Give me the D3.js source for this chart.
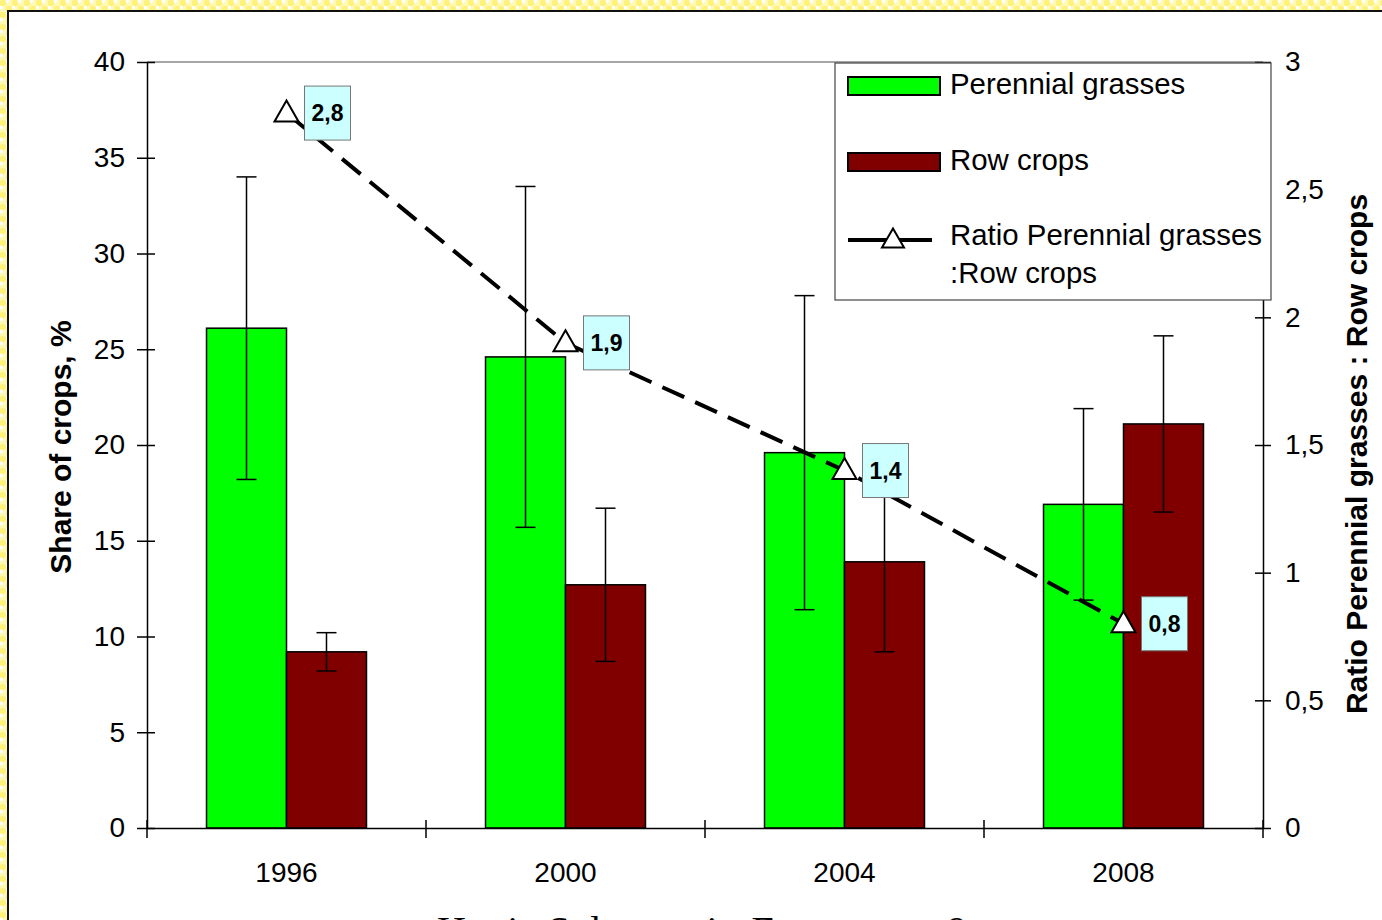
<!DOCTYPE html>
<html>
<head>
<meta charset="utf-8">
<script src="https://cdn.jsdelivr.net/npm/d3@7"></script>
<style>
  html, body { margin: 0; padding: 0; background: #fff; }
  svg { display: block; font-family: "Liberation Sans", Arial, sans-serif; }
</style>
</head>
<body>
<svg id="chart" width="1382" height="920"></svg>
<script>
// ---- data ----
const years = ["1996", "2000", "2004", "2008"];
const perennialGrasses = [26.1, 24.6, 19.6, 16.9];
const perennialErr = [7.9, 8.9, 8.2, 5.0];
const rowCrops = [9.2, 12.7, 13.9, 21.1];
const rowErr = [1.0, 4.0, 4.7, 4.6];
const ratio = [2.8, 1.9, 1.4, 0.8];
const ratioLabels = ["2,8", "1,9", "1,4", "0,8"];
const leftTicks = [0, 5, 10, 15, 20, 25, 30, 35, 40];
const rightTicks = [0, 0.5, 1, 1.5, 2, 2.5, 3];
const rightTickLabels = ["0", "0,5", "1", "1,5", "2", "2,5", "3"];
const seriesNames = ["Perennial grasses", "Row crops"];

const W = 1382, H = 920;
const M = { left: 147, right: 119, top: 62, bottom: 92 };
const iw = W - M.left - M.right, ih = H - M.top - M.bottom;

const svg = d3.select("#chart");

// ---- decorative frame ----
const defs = svg.append("defs");
const pat = defs.append("pattern").attr("id", "dots")
  .attr("width", 12).attr("height", 12).attr("patternUnits", "userSpaceOnUse");
pat.append("rect").attr("width", 12).attr("height", 12).attr("fill", "#fff9b8");
pat.append("circle").attr("cx", 3).attr("cy", 3).attr("r", 3.2).attr("fill", "#fff27a");
pat.append("circle").attr("cx", 9).attr("cy", 9).attr("r", 3.2).attr("fill", "#fff27a");
pat.append("rect").attr("x", 6).attr("y", 0).attr("width", 3).attr("height", 3).attr("fill", "#ffffff");
pat.append("rect").attr("x", 0).attr("y", 6).attr("width", 3).attr("height", 3).attr("fill", "#ffffff");
svg.append("rect").attr("width", W).attr("height", H).attr("fill", "url(#dots)");
svg.append("rect").attr("x", 8).attr("y", 11).attr("width", W).attr("height", H)
  .attr("fill", "#fff").attr("stroke", "#111").attr("stroke-width", 2);

const g = svg.append("g").attr("transform", `translate(${M.left},${M.top})`);

// ---- scales ----
const x = d3.scaleBand().domain(years).range([0, iw]).paddingInner(0).paddingOuter(0);
const xSub = d3.scaleBand().domain(seriesNames).range([0, x.bandwidth()])
  .paddingInner(0).paddingOuter(0.744);
const y = d3.scaleLinear().domain([0, 40]).range([ih, 0]);
const y2 = d3.scaleLinear().domain([0, 3]).range([ih, 0]);

// ---- plot border (top) ----
g.append("line").attr("x1", 0).attr("x2", iw).attr("y1", 0).attr("y2", 0)
  .attr("stroke", "#888").attr("stroke-width", 1.5);

// ---- bars ----
const colors = { "Perennial grasses": "#00ff00", "Row crops": "#800000" };
const barData = [];
years.forEach((yr, i) => {
  barData.push({ yr, s: seriesNames[0], v: perennialGrasses[i], e: perennialErr[i] });
  barData.push({ yr, s: seriesNames[1], v: rowCrops[i], e: rowErr[i] });
});
g.selectAll("rect.bar").data(barData).join("rect").attr("class", "bar")
  .attr("x", d => x(d.yr) + xSub(d.s))
  .attr("y", d => y(d.v))
  .attr("width", xSub.bandwidth())
  .attr("height", d => ih - y(d.v))
  .attr("fill", d => colors[d.s])
  .attr("stroke", "#000").attr("stroke-width", 1.5);

// ---- error bars ----
const eb = g.selectAll("g.err").data(barData).join("g").attr("class", "err")
  .attr("transform", d => `translate(${x(d.yr) + xSub(d.s) + xSub.bandwidth() / 2},0)`);
eb.append("line").attr("y1", d => y(d.v + d.e)).attr("y2", d => y(d.v - d.e))
  .attr("stroke", "#000").attr("stroke-width", 1.5);
eb.append("line").attr("x1", -10).attr("x2", 10).attr("y1", d => y(d.v + d.e)).attr("y2", d => y(d.v + d.e))
  .attr("stroke", "#000").attr("stroke-width", 1.5);
eb.append("line").attr("x1", -10).attr("x2", 10).attr("y1", d => y(d.v - d.e)).attr("y2", d => y(d.v - d.e))
  .attr("stroke", "#000").attr("stroke-width", 1.5);

// ---- axes ----
const fontTick = 28;
const axL = g.append("g").call(d3.axisLeft(y).tickValues(leftTicks).tickSize(0).tickFormat(d3.format("d")));
axL.select(".domain").attr("stroke", "#000").attr("stroke-width", 1.5);
axL.selectAll(".tick line").attr("x1", -10).attr("x2", 8).attr("stroke", "#000").attr("stroke-width", 1.5);
axL.selectAll(".tick text").attr("x", -22).attr("font-size", fontTick).attr("fill", "#000")
  .attr("font-family", "Liberation Sans, Arial, sans-serif");

const axR = g.append("g").attr("transform", `translate(${iw},0)`)
  .call(d3.axisRight(y2).tickValues(rightTicks).tickSize(0).tickFormat((d, i) => rightTickLabels[i]));
axR.select(".domain").attr("stroke", "#000").attr("stroke-width", 1.5);
axR.selectAll(".tick line").attr("x1", -8).attr("x2", 8).attr("stroke", "#000").attr("stroke-width", 1.5);
axR.selectAll(".tick text").attr("x", 22).attr("font-size", fontTick).attr("fill", "#000")
  .attr("font-family", "Liberation Sans, Arial, sans-serif");

const axB = g.append("g").attr("transform", `translate(0,${ih})`)
  .call(d3.axisBottom(x).tickSize(0));
axB.select(".domain").attr("stroke", "#000").attr("stroke-width", 1.5);
axB.selectAll(".tick line").remove();
axB.selectAll(".tick text").attr("y", 34).attr("dy", "0.71em").attr("font-size", fontTick).attr("fill", "#000")
  .attr("font-family", "Liberation Sans, Arial, sans-serif");
// category boundary tick marks (crossing the axis)
const bounds = years.map(yr => x(yr)).concat([iw]);
axB.selectAll("line.bt").data(bounds).join("line").attr("class", "bt")
  .attr("x1", d => d).attr("x2", d => d).attr("y1", -8).attr("y2", 10)
  .attr("stroke", "#000").attr("stroke-width", 1.5);

// ---- axis titles ----
g.append("text").attr("transform", `translate(${60 - M.left},${ih / 2 + 2}) rotate(-90)`)
  .attr("text-anchor", "middle").attr("dy", "0.35em")
  .attr("font-size", 30).attr("font-weight", "bold").text("Share of crops, %");
g.append("text").attr("transform", `translate(${1356 - M.left},${454 - M.top}) rotate(-90)`)
  .attr("text-anchor", "middle").attr("dy", "0.35em")
  .attr("font-size", 30).attr("font-weight", "bold").text("Ratio Perennial grasses : Row crops");

// ---- ratio line ----
const cx = yr => x(yr) + x.bandwidth() / 2;
const line = d3.line().x((d, i) => cx(years[i])).y(d => y2(d));
g.append("path").datum(ratio).attr("d", line).attr("fill", "none")
  .attr("stroke", "#000").attr("stroke-width", 4).attr("stroke-dasharray", "24,12");

const tri = (w, h) => `M0,${-h * 0.6}L${w / 2},${h * 0.4}L${-w / 2},${h * 0.4}Z`;
g.selectAll("path.mk").data(ratio).join("path").attr("class", "mk")
  .attr("transform", (d, i) => `translate(${cx(years[i])},${y2(d)})`)
  .attr("d", tri(24, 21)).attr("fill", "#fff").attr("stroke", "#000").attr("stroke-width", 2);

// ---- value labels ----
const lab = g.selectAll("g.lab").data(ratio).join("g").attr("class", "lab")
  .attr("transform", (d, i) => `translate(${cx(years[i]) + 18},${y2(d)})`);
lab.append("rect").attr("x", 0).attr("y", -27).attr("width", 46).attr("height", 54)
  .attr("fill", "#ccffff").attr("stroke", "#777").attr("stroke-width", 1);
lab.append("text").attr("x", 23).attr("y", 0).attr("dy", "0.36em").attr("text-anchor", "middle")
  .attr("font-size", 23).attr("font-weight", "bold").text((d, i) => ratioLabels[i]);

// ---- legend ----
const lg = svg.append("g").attr("transform", "translate(835,63)");
lg.append("rect").attr("width", 436).attr("height", 237).attr("fill", "#fff")
  .attr("stroke", "#444").attr("stroke-width", 1.2);
lg.append("rect").attr("x", 13).attr("y", 14).attr("width", 92).attr("height", 18)
  .attr("fill", colors[seriesNames[0]]).attr("stroke", "#000").attr("stroke-width", 2);
lg.append("rect").attr("x", 13).attr("y", 90).attr("width", 92).attr("height", 18)
  .attr("fill", colors[seriesNames[1]]).attr("stroke", "#000").attr("stroke-width", 2);
lg.append("line").attr("x1", 13).attr("x2", 97).attr("y1", 177).attr("y2", 177)
  .attr("stroke", "#000").attr("stroke-width", 4);
lg.append("path").attr("transform", "translate(58,177)").attr("d", tri(22, 19))
  .attr("fill", "#fff").attr("stroke", "#000").attr("stroke-width", 2);
const lt = [[seriesNames[0], 21], [seriesNames[1], 97], ["Ratio Perennial grasses", 172], [":Row crops", 210]];
lg.selectAll("text.lt").data(lt).join("text").attr("class", "lt")
  .attr("x", 115).attr("y", d => d[1]).attr("dy", "0.35em")
  .attr("font-size", 29.4).text(d => d[0]);

// ---- caption below the chart (runs past the lower edge) ----
svg.append("text").attr("x", 437).attr("y", 944)
  .attr("font-family", "Liberation Serif, Times New Roman, serif").attr("font-size", 40)
  .attr("textLength", 530).attr("lengthAdjust", "spacing")
  .text("Hanis Salutsun in Ecosystem 9");
</script>
</body>
</html>
